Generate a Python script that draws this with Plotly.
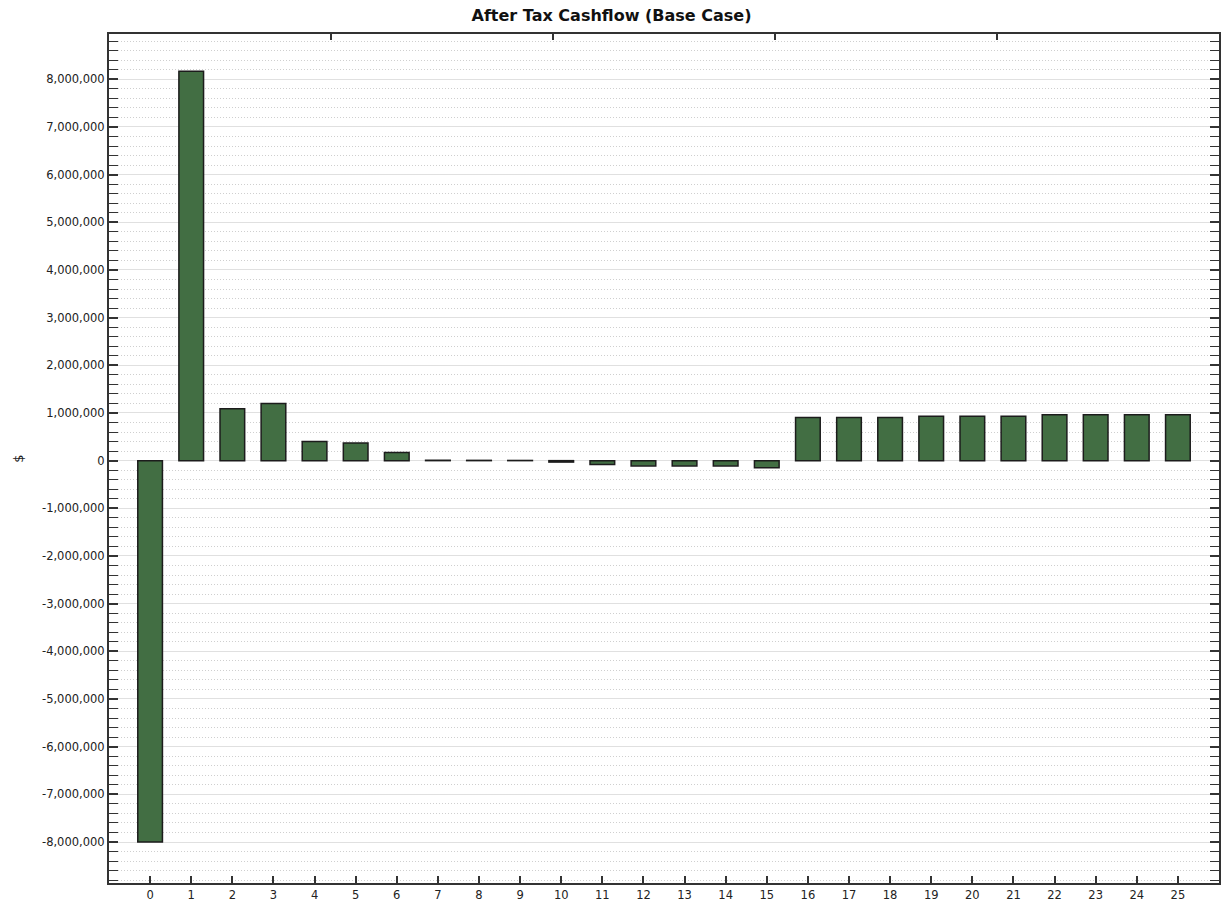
import plotly.graph_objects as go

years = list(range(0, 26))
cashflow = [
    -8000000, 8170000, 1090000, 1200000, 400000, 370000, 170000,
    8000, 6000, 4000, -30000, -80000, -110000, -110000, -110000, -150000,
    905000, 905000, 905000, 930000, 930000, 930000, 965000, 965000, 965000, 965000,
]
y_ticks = list(range(-8000000, 8000001, 1000000))
y_tick_text = [f"{v:,}" for v in y_ticks]
title_text = "After Tax Cashflow (Base Case)"
y_title = "$"

FONT = "Tahoma, DejaVu Sans, sans-serif"
AXIS_COL = "#333333"

fig = go.Figure()
fig.add_trace(go.Bar(
    x=years, y=cashflow, width=0.6,
    marker=dict(color="#426E43", line=dict(color="#1c1c1c", width=1.5)),
    showlegend=False, hoverinfo="x+y",
))
# invisible helper trace so the top border axis (ticks only) is drawn
fig.add_trace(go.Scatter(x=[2.5], y=[0], xaxis="x2", yaxis="y", mode="markers",
                         marker=dict(opacity=0), showlegend=False, hoverinfo="skip"))

fig.update_layout(
    width=1223, height=907,
    margin=dict(l=109, r=2, t=34, b=24),
    paper_bgcolor="white", plot_bgcolor="white",
    font=dict(family=FONT, size=11, color="#222222"),
    title=dict(text=f"<b>{title_text}</b>", x=0.5, xanchor="center",
               y=1 - 15 / 907, yanchor="middle",
               font=dict(family=FONT, size=16, color="#111111")),
    bargap=0.4,
    xaxis=dict(
        range=[-1, 26], tickvals=years, ticktext=[str(v) for v in years],
        showgrid=False, zeroline=False,
        showline=True, linecolor=AXIS_COL, linewidth=2, mirror=True,
        ticks="inside", ticklen=7, tickwidth=1.5, tickcolor=AXIS_COL,
        tickfont=dict(family=FONT, size=11.5, color="#222222"),
    ),
    xaxis2=dict(
        overlaying="x", side="top", range=[0, 5], dtick=1, tick0=0,
        showgrid=False, zeroline=False, showline=False, showticklabels=False,
        ticks="inside", ticklen=6, tickwidth=1.5, tickcolor=AXIS_COL,
    ),
    yaxis=dict(
        range=[-8860000, 8950000],
        tickvals=y_ticks, ticktext=y_tick_text,
        showgrid=True, gridcolor="#e0e0e0", gridwidth=1.3,
        zeroline=False,
        showline=True, linecolor=AXIS_COL, linewidth=2, mirror="allticks",
        ticks="inside", ticklen=9, tickwidth=1.5, tickcolor=AXIS_COL,
        tickfont=dict(family=FONT, size=11.5, color="#222222"),
        minor=dict(dtick=200000, tick0=0, ticks="inside", ticklen=4,
                   tickwidth=1.2, tickcolor=AXIS_COL,
                   showgrid=True, gridcolor="#cfcfcf", griddash="1px,2px", gridwidth=1),
        title=dict(text=y_title, standoff=15,
                   font=dict(family=FONT, size=13, color="#222222")),
    ),
)

fig.write_html("out.html", config={"displayModeBar": False})

with open("out.html", "r", encoding="utf-8") as f:
    html = f.read()
html = html.replace("<head>", "<head><style>html,body{margin:0;padding:0;overflow:hidden;}</style>", 1)
with open("out.html", "w", encoding="utf-8") as f:
    f.write(html)
